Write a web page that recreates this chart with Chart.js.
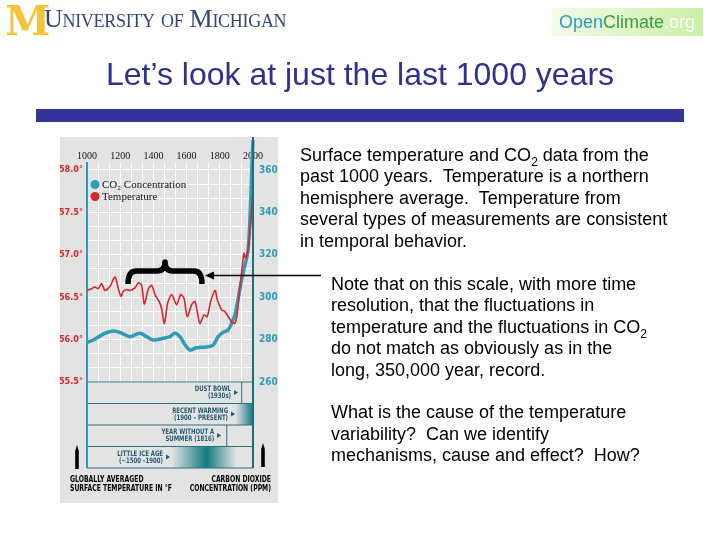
<!DOCTYPE html>
<html lang="en">
<head>
<meta charset="UTF-8">
<title>Let’s look at just the last 1000 years</title>
<script src="https://cdn.jsdelivr.net/npm/chart.js"></script>
<style>
  body { margin: 0; width: 720px; height: 540px; position: relative; overflow: hidden; background: #fff;
         font-family: "Liberation Sans", Arial, sans-serif; }
  #chart { position: absolute; left: 0; top: 0; }
  .abs { position: absolute; white-space: nowrap; }
  #mblock { left: 5px; top: -3px; font: bold 41px "DejaVu Serif", serif; color: #f2c43a; letter-spacing: -2px; }
  #umich { left: 44px; top: 4px; font: 26px "Liberation Serif", serif; font-variant: small-caps; color: #34477a; letter-spacing: -0.3px; }
  #oc { left: 552px; top: 8px; width: 151px; height: 28px; background: linear-gradient(90deg, #f4fbea, #c9f0a4);
        font: 18px "Liberation Sans", Arial, sans-serif; line-height: 28px; padding-left: 7px; box-sizing: border-box; }
  #title { left: 0; top: 56px; width: 720px; text-align: center; font-size: 32px; color: #2e3192; }
  #bar { left: 36px; top: 109px; width: 648px; height: 13px; background: #333399; }
  .txt { font-size: 18px; line-height: 21.4px; color: #000; }
  .sub { font-size: 12px; position: relative; top: 5px; line-height: 0; }
</style>
</head>
<body>
<canvas id="chart" width="720" height="540"></canvas>
<div class="abs" id="mblock">M</div>
<div class="abs" id="umich">University of Michigan</div>
<div class="abs" id="oc"><span style="color:#2a9fb3">Open</span><span style="color:#3f9a45">Climate</span><span style="color:#fff">.org</span></div>
<div class="abs" id="title">Let’s look at just the last 1000 years</div>
<div class="abs" id="bar"></div>
<div class="abs txt" style="left:300px; top:145px;">Surface temperature and CO<span class="sub">2</span> data from the<br>past 1000 years.&nbsp; Temperature is a northern<br>hemisphere average.&nbsp; Temperature from<br>several types of measurements are consistent<br>in temporal behavior.</div>
<div class="abs txt" style="left:331px; top:274px;">Note that on this scale, with more time<br>resolution, that the fluctuations in<br>temperature and the fluctuations in CO<span class="sub">2</span><br>do not match as obviously as in the<br>long, 350,000 year, record.<br><br>What is the cause of the temperature<br>variability?&nbsp; Can we identify<br>mechanisms, cause and effect?&nbsp; How?</div>

<script>
// Northern hemisphere temperature (°F)
const tempYears = [1000, 1028, 1048, 1068, 1088, 1108, 1139, 1169, 1189, 1205, 1219, 1239, 1259, 1289, 1309, 1329,
  1345, 1370, 1390, 1410, 1434, 1449, 1466, 1486, 1510, 1540, 1564, 1584, 1604, 1630, 1650, 1664, 1680, 1705,
  1724, 1745, 1771, 1785, 1811, 1831, 1851, 1871, 1890, 1904, 1920, 1932, 1945, 1955, 1970, 1985, 1995, 2000];
const tempValues = [56.58, 56.60, 56.62, 56.60, 56.66, 56.58, 56.63, 56.74, 56.60, 56.51, 56.57, 56.59, 56.58, 56.61, 56.67, 56.64,
  56.42, 56.60, 56.64, 56.53, 56.45, 56.37, 56.19, 56.43, 56.53, 56.41, 56.53, 56.49, 56.27, 56.41, 56.45, 56.33, 56.19, 56.29,
  56.27, 56.45, 56.58, 56.47, 56.35, 56.33, 56.27, 56.21, 56.19, 56.29, 56.60, 56.80, 57.02, 56.96, 57.06, 57.35, 57.62, 57.75];

// CO2 concentration (ppm)
const co2Years = [1000, 1038, 1098, 1158, 1209, 1259, 1319, 1359, 1399, 1459, 1499, 1529, 1559, 1589, 1619, 1660,
  1720, 1760, 1790, 1820, 1850, 1871, 1891, 1911, 1931, 1951, 1970, 1985, 1995, 2000];
const co2Values = [278.7, 279.8, 282.6, 284.1, 283.0, 281.4, 283.0, 281.4, 279.8, 280.6, 281.4, 283.0, 281.4, 277.8, 275.1, 276.2,
  276.5, 277.4, 281.4, 283.4, 284.5, 287.7, 291.6, 299.5, 308.0, 315.0, 322.0, 343.0, 365.0, 374.0];

const yearTicks = [1000, 1200, 1400, 1600, 1800, 2000];
const tempTicks = [55.5, 56.0, 56.5, 57.0, 57.5, 58.0];
const co2Ticks = [260, 280, 300, 320, 340, 360];

// event rows under the plot
const eventText = [["DUST BOWL", "(1930s)"], ["RECENT WARMING", "(1900 – PRESENT)"],
                   ["YEAR WITHOUT A", "SUMMER (1816)"], ["LITTLE ICE AGE", "(~1500 –1900)"]];
const eventArrowYear = [1910, 1892, 1808, 1500];
const eventDivider = [1932, null, 1842, null];
const warmingSpan = [1895, 2000];
const iceAgeSpan = [1510, 1720, 1900];

const RED = '#d8262c', TEAL = '#2d9cb4';

// three grid lines per labelled step
function gridTicks(labels) {
  const out = [];
  for (let i = 0; i < labels.length - 1; i++) {
    const step = (labels[i + 1] - labels[i]) / 3;
    for (let k = 0; k < 3; k++) out.push(labels[i] + k * step);
  }
  out.push(labels[labels.length - 1]);
  return out;
}
function isLabel(v, labels) { return labels.some(l => Math.abs(l - v) < 1e-6); }

const panel = { left: 60, top: 137, right: 278, bottom: 503 };

// condensed bold caption text: squeeze horizontally
function squeezed(c, txt, x, y, align) {
  c.save();
  c.translate(x, y);
  c.scale(0.8, 1);
  c.textAlign = align;
  c.fillText(txt, 0, 0);
  c.restore();
}

const slidePlugin = {
  id: 'slide',
  beforeDraw(chart) {
    const c = chart.ctx;
    c.save();
    c.fillStyle = '#e3e3e3';
    c.fillRect(panel.left, panel.top, panel.right - panel.left, panel.bottom - panel.top);
    c.restore();
  },
  afterDraw(chart) {
    const c = chart.ctx, a = chart.chartArea, xs = chart.scales.x;
    const rowH = 21.5, rowsBottom = a.bottom + rowH * 4;
    c.save();
    // event rows
    for (let i = 0; i < 4; i++) {
      const top = a.bottom + i * rowH;
      if (i === 1) {
        const x0 = xs.getPixelForValue(warmingSpan[0]), x1 = xs.getPixelForValue(warmingSpan[1]);
        const g = c.createLinearGradient(x0, 0, x1, 0);
        g.addColorStop(0, 'rgba(18,122,128,0)');
        g.addColorStop(1, 'rgba(18,122,128,1)');
        c.fillStyle = g; c.fillRect(x0, top, x1 - x0, rowH);
      }
      if (i === 3) {
        const x0 = xs.getPixelForValue(iceAgeSpan[0]), xm = xs.getPixelForValue(iceAgeSpan[1]), x1 = xs.getPixelForValue(iceAgeSpan[2]);
        const g = c.createLinearGradient(x0, 0, x1, 0);
        g.addColorStop(0, 'rgba(18,122,128,0)');
        g.addColorStop((xm - x0) / (x1 - x0), 'rgba(18,122,128,1)');
        g.addColorStop(1, 'rgba(18,122,128,0)');
        c.fillStyle = g; c.fillRect(x0, top, x1 - x0, rowH);
      }
      c.strokeStyle = '#2f6f7c'; c.lineWidth = 1;
      c.beginPath(); c.moveTo(a.left, top + rowH); c.lineTo(a.right, top + rowH); c.stroke();
      if (eventDivider[i] !== null) {
        const xd = xs.getPixelForValue(eventDivider[i]);
        c.beginPath(); c.moveTo(xd, top); c.lineTo(xd, top + rowH); c.stroke();
      }
      const xa = xs.getPixelForValue(eventArrowYear[i]);
      c.fillStyle = '#1e5a72';
      c.beginPath(); c.moveTo(xa, top + 10.5); c.lineTo(xa - 4, top + 8); c.lineTo(xa - 4, top + 13); c.closePath(); c.fill();
      c.font = 'bold 7.5px "DejaVu Sans Condensed", "DejaVu Sans", sans-serif';
      c.textBaseline = 'middle';
      squeezed(c, eventText[i][0], xa - 7, top + 7.5, 'right');
      squeezed(c, eventText[i][1], xa - 7, top + 14.5, 'right');
    }
    c.strokeStyle = '#2f6f7c';
    c.beginPath(); c.moveTo(a.left, a.bottom); c.lineTo(a.right, a.bottom); c.stroke();
    // axis lines running through the rows
    c.strokeStyle = TEAL; c.lineWidth = 2;
    c.beginPath(); c.moveTo(a.left, a.bottom); c.lineTo(a.left, rowsBottom); c.stroke();
    c.strokeStyle = '#1f6f7a';
    c.beginPath(); c.moveTo(a.right, panel.top); c.lineTo(a.right, rowsBottom); c.stroke();

    // pointers and axis captions
    c.fillStyle = '#000';
    [[77, 445, 469], [263, 443, 467]].forEach(([x, y0, y1]) => {
      c.beginPath(); c.moveTo(x, y0); c.lineTo(x + 1.8, y0 + 6); c.lineTo(x + 1.8, y1); c.lineTo(x - 1.8, y1); c.lineTo(x - 1.8, y0 + 6);
      c.closePath(); c.fill();
    });
    c.font = 'bold 8.5px "DejaVu Sans Condensed", "DejaVu Sans", sans-serif';
    c.textBaseline = 'middle';
    squeezed(c, 'GLOBALLY AVERAGED', 70, 480, 'left');
    squeezed(c, 'SURFACE TEMPERATURE IN °F', 70, 488.5, 'left');
    squeezed(c, 'CARBON DIOXIDE', 271, 480, 'right');
    squeezed(c, 'CONCENTRATION (PPM)', 271, 488.5, 'right');

    // legend
    const items = [[TEAL, 'CO₂ Concentration', 184.5], [RED, 'Temperature', 196.5]];
    c.font = '11px "Liberation Serif", serif';
    c.textAlign = 'left';
    items.forEach(([col, txt, y]) => {
      c.fillStyle = col; c.beginPath(); c.arc(95, y, 4.5, 0, Math.PI * 2); c.fill();
      c.fillStyle = '#111'; c.fillText(txt, 102, y + 0.5);
    });

    // brace over the part in question, and arrow from the text
    c.strokeStyle = '#000'; c.lineWidth = 5.5; c.lineJoin = 'round'; c.lineCap = 'butt';
    c.beginPath();
    c.moveTo(128, 284);
    c.quadraticCurveTo(128, 271, 136, 271);
    c.lineTo(157, 271);
    c.quadraticCurveTo(165, 271, 165, 262);
    c.quadraticCurveTo(165, 271, 173, 271);
    c.lineTo(194, 271);
    c.quadraticCurveTo(202, 271, 202, 284);
    c.stroke();
    c.lineWidth = 1.5;
    c.beginPath(); c.moveTo(321, 275.5); c.lineTo(212, 275.5); c.stroke();
    c.fillStyle = '#000';
    c.beginPath(); c.moveTo(205, 275.5); c.lineTo(214, 271.5); c.lineTo(214, 279.5); c.closePath(); c.fill();
    c.restore();
  }
};

new Chart(document.getElementById('chart'), {
  type: 'line',
  data: {
    datasets: [
      {
        label: 'Temperature',
        data: tempYears.map((y, i) => ({ x: y, y: tempValues[i] })),
        yAxisID: 'yT',
        borderColor: RED, borderWidth: 1.6, pointRadius: 0, tension: 0.25, clip: false
      },
      {
        label: 'CO2 Concentration',
        data: co2Years.map((y, i) => ({ x: y, y: co2Values[i] })),
        yAxisID: 'yC',
        borderColor: TEAL, borderWidth: 3.5, pointRadius: 0, tension: 0.35, clip: false
      }
    ]
  },
  options: {
    responsive: false,
    animation: false,
    layout: { padding: { left: 60, top: 137, right: 442, bottom: 158 } },
    plugins: { legend: { display: false }, tooltip: { enabled: false } },
    scales: {
      x: {
        type: 'linear', position: 'top', min: 1000, max: 2000,
        afterBuildTicks: s => { s.ticks = gridTicks(yearTicks).map(v => ({ value: v })); },
        afterFit: s => { s.height = 26; },
        ticks: {
          autoSkip: false, maxRotation: 0, padding: 1, color: '#111',
          font: { family: '"Liberation Serif", serif', size: 10 },
          callback: v => isLabel(v, yearTicks) ? String(Math.round(v)) : ''
        },
        grid: { color: '#ffffff', lineWidth: 1, drawTicks: false },
        border: { display: false }
      },
      yT: {
        type: 'linear', position: 'left', min: 55.5, max: 58.0825,
        afterBuildTicks: s => { s.ticks = gridTicks(tempTicks).map(v => ({ value: v })); },
        afterFit: s => { s.width = 27; },
        ticks: {
          autoSkip: false, padding: 4, color: RED,
          font: { family: '"Liberation Sans Narrow", "DejaVu Sans Condensed", sans-serif', size: 9, weight: 'bold' },
          callback: v => isLabel(v, tempTicks) ? v.toFixed(1) + '°' : ''
        },
        grid: { color: '#ffffff', lineWidth: 1, drawTicks: false },
        border: { color: TEAL, width: 2 }
      },
      yC: {
        type: 'linear', position: 'right', min: 260, max: 363.3,
        afterBuildTicks: s => { s.ticks = co2Ticks.map(v => ({ value: v })); },
        afterFit: s => { s.width = 25; },
        ticks: {
          autoSkip: false, padding: 6, color: TEAL,
          font: { family: '"Liberation Sans Narrow", "DejaVu Sans Condensed", sans-serif', size: 10, weight: 'bold' },
          callback: v => String(v)
        },
        grid: { display: false, drawTicks: false },
        border: { display: false }
      }
    }
  },
  plugins: [slidePlugin]
});
</script>
</body>
</html>
